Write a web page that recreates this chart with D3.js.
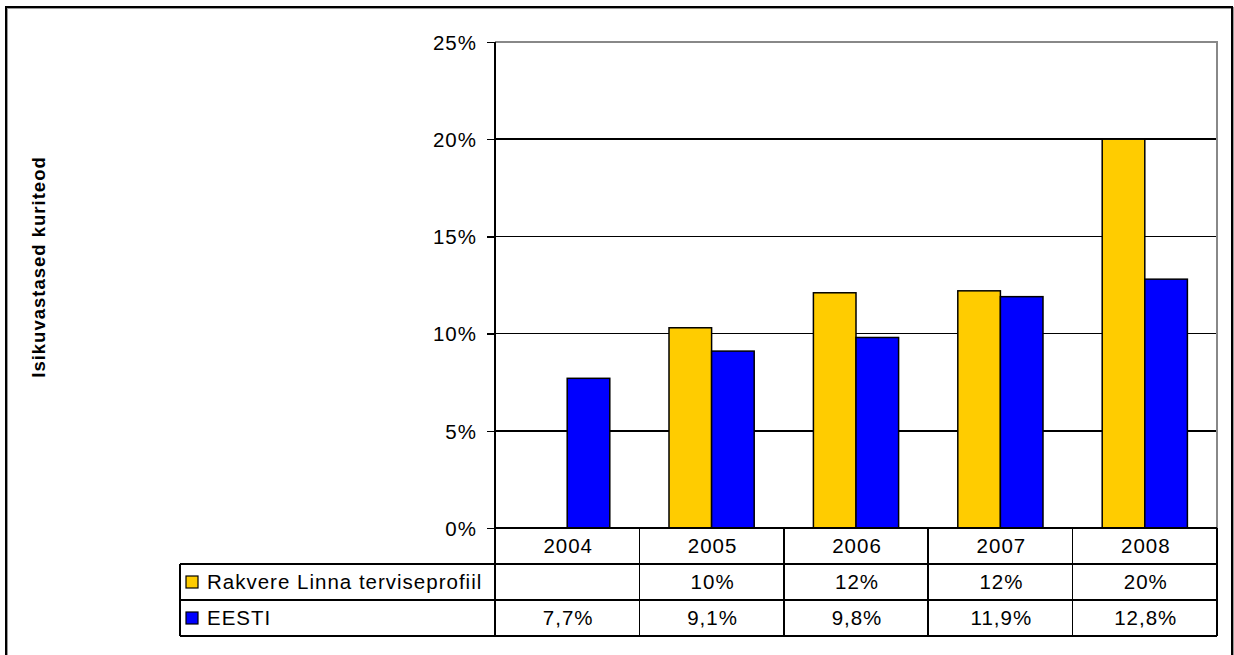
<!DOCTYPE html>
<html><head><meta charset="utf-8">
<script src="https://cdn.jsdelivr.net/npm/d3@7"></script>
<style>
body{margin:0;background:#fff;}
svg{display:block;font-family:"Liberation Sans",Arial,sans-serif;}
</style></head>
<body><svg id="c" width="1234" height="655"></svg>
<script>
const years = ["2004","2005","2006","2007","2008"];
const seriesNames = ["Rakvere Linna terviseprofiil","EESTI"];
const seriesColors = ["#FFCC00","#0000FF"];
const rakvere = [null, 10.3, 12.1, 12.2, 20.0];
const eesti = [7.7, 9.1, 9.8, 11.9, 12.8];
const rakvereLabels = ["", "10%", "12%", "12%", "20%"];
const eestiLabels = ["7,7%", "9,1%", "9,8%", "11,9%", "12,8%"];
const yTicks = [0, 5, 10, 15, 20, 25];
const yTitle = "Isikuvastased kuriteod";

const svg = d3.select("#c");
const L = 495, R = 1217, T = 42, B = 528;
const rowH = 36, tableLeft = 180;
const fs = 20.5, ls = 1;

// outer frame
svg.append("rect").attr("x",7).attr("y",8).attr("width",1226).attr("height",700)
  .attr("fill","none").attr("stroke","#999").attr("stroke-width",2);
svg.append("rect").attr("x",6).attr("y",7).attr("width",1226).attr("height",700)
  .attr("fill","none").attr("stroke","#000").attr("stroke-width",2);

const x = d3.scaleBand().domain(years).range([L,R]).paddingInner(0).paddingOuter(0);
const y = d3.scaleLinear().domain([0,25]).range([B,T]);
const bw = x.bandwidth()*0.295;
const x1 = d3.scaleBand().domain([0,1]).range([-bw, bw]);

// gridlines
svg.append("g").selectAll("line").data(yTicks.filter(d=>d>0 && d<25)).join("line")
  .attr("x1",L).attr("x2",R).attr("y1",d=>y(d)).attr("y2",d=>y(d))
  .attr("stroke","#000").attr("stroke-width",1.5).attr("shape-rendering","crispEdges");
// plot border top/right gray
svg.append("path").attr("d",`M${L},${y(25)}H${R}V${B}`).attr("fill","none")
  .attr("stroke","#888").attr("stroke-width",2).attr("shape-rendering","crispEdges");

// bars
const series = [rakvere, eesti];
series.forEach((vals, si) => {
  svg.append("g").selectAll("rect").data(years.map((yr,i)=>({yr, v: vals[i]})).filter(d=>d.v!=null)).join("rect")
    .attr("x", d => x(d.yr) + x.bandwidth()/2 + x1(si))
    .attr("width", x1.bandwidth())
    .attr("y", d => y(d.v))
    .attr("height", d => y(0) - y(d.v))
    .attr("fill", seriesColors[si]).attr("stroke","#000").attr("stroke-width",1.5);
});

// y axis
const yAxis = d3.axisLeft(y).tickValues(yTicks).tickFormat(d=>d+"%").tickSize(8).tickPadding(10);
const ga = svg.append("g").attr("transform",`translate(${L},0)`).call(yAxis);
ga.select(".domain").remove();
ga.selectAll(".tick line").attr("stroke","#000").attr("stroke-width",1.5).attr("shape-rendering","crispEdges");
ga.selectAll(".tick text").attr("font-size",fs).attr("fill","#000").attr("letter-spacing",ls+"px")
  .attr("font-family","Liberation Sans, Arial, sans-serif").attr("dy","0.36em");
svg.append("line").attr("x1",L).attr("x2",L).attr("y1",T).attr("y2",B+rowH*3)
  .attr("stroke","#000").attr("stroke-width",2).attr("shape-rendering","crispEdges");

// table lines
const tl = svg.append("g").attr("stroke","#000").attr("stroke-width",1.5).attr("shape-rendering","crispEdges");
tl.append("line").attr("x1",L).attr("x2",R).attr("y1",B).attr("y2",B).attr("stroke-width",2);
[1,2,3].forEach(k=>{
  tl.append("line").attr("x1",tableLeft).attr("x2",R).attr("y1",B+rowH*k).attr("y2",B+rowH*k);
});
tl.append("line").attr("x1",tableLeft).attr("x2",tableLeft).attr("y1",B+rowH).attr("y2",B+rowH*3);
years.forEach(yr=>{
  tl.append("line").attr("x1",x(yr)+x.bandwidth()).attr("x2",x(yr)+x.bandwidth()).attr("y1",B).attr("y2",B+rowH*3);
});

// table text
const tt = svg.append("g").attr("font-size",fs).attr("letter-spacing",ls+"px").attr("fill","#000");
tt.selectAll(".yr").data(years).join("text")
  .attr("x",d=>x(d)+x.bandwidth()/2+1).attr("y",B+rowH/2+7).attr("text-anchor","middle").text(d=>d);
[rakvereLabels, eestiLabels].forEach((labs, si)=>{
  tt.append("g").selectAll("text").data(years).join("text")
    .attr("x",d=>x(d)+x.bandwidth()/2+1).attr("y",B+rowH*(si+1)+rowH/2+7).attr("text-anchor","middle")
    .text((d,i)=>labs[i]);
  svg.append("rect").attr("x",tableLeft+6).attr("y",B+rowH*(si+1)+rowH/2-6).attr("width",12).attr("height",12)
    .attr("fill",seriesColors[si]).attr("stroke","#000").attr("stroke-width",1.2);
  tt.append("text").attr("x",tableLeft+27).attr("y",B+rowH*(si+1)+rowH/2+7).text(seriesNames[si]);
});

// y title
svg.append("text").attr("transform",`translate(45,267) rotate(-90)`).attr("text-anchor","middle")
  .attr("font-size",18.5).attr("font-weight","bold").attr("letter-spacing","1px").text(yTitle);
</script></body></html>
